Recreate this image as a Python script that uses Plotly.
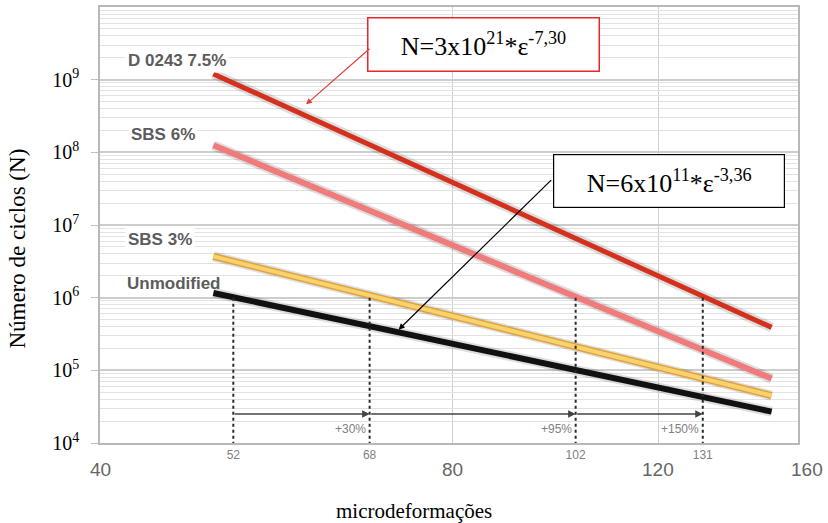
import math
import plotly.graph_objects as go

# Fatigue lines: number of cycles N against tensile microstrain (log-log)
strain = [50, 150]
n_d0243 = [1.2e9, 3.9e5]
n_sbs6 = [1.25e8, 7.7e4]
n_sbs3 = [3.7e6, 4.5e4]
n_unmod = [1.16e6, 2.7e4]
series_names = ["D 0243 7.5%", "SBS 6%", "SBS 3%", "Unmodified"]

# strain reaching 10^6 cycles for each mix, and the gains over the unmodified binder
strain_at_1e6 = [52, 68, 102, 131]
gain_labels = ["+30%", "+95%", "+150%"]
n_ref = 1e6
n_floor = 1e4
n_arrow = 2.5e4
n_gain_label = 1.55e4

major_x = [40, 80, 120, 160]
y_tickvals = [1e4, 1e5, 1e6, 1e7, 1e8, 1e9]
y_ticktext = ["10<sup>4</sup>", "10<sup>5</sup>", "10<sup>6</sup>",
              "10<sup>7</sup>", "10<sup>8</sup>", "10<sup>9</sup>"]

eq_d0243 = "N=3x10<sup>21</sup>*ε<sup>-7,30</sup>"
eq_unmod = "N=6x10<sup>11</sup>*ε<sup>-3,36</sup>"

SERIF = "Liberation Serif, Times New Roman, serif"
SANS = "Liberation Sans, Arial, sans-serif"

x_range = [math.log10(40), math.log10(158)]


def x_paper(v):
    """Position of a strain value along the log x axis, as a paper fraction."""
    return (math.log10(v) - x_range[0]) / (x_range[1] - x_range[0])


fig = go.Figure()

# soft shadow under each line
for ys in [n_d0243, n_sbs6, n_sbs3, n_unmod]:
    fig.add_trace(go.Scatter(x=strain, y=ys, mode="lines", hoverinfo="skip",
                             line=dict(color="rgba(0,0,0,0.13)", width=10)))

# yellow line has an orange rim
fig.add_trace(go.Scatter(x=strain, y=n_sbs3, mode="lines", hoverinfo="skip",
                         line=dict(color="#e2a03c", width=7)))

styles = [("#d4301d", 5), ("#f07b7b", 6), ("#f7d36e", 4), ("#111111", 6)]
for ys, name, (col, w) in zip([n_d0243, n_sbs6, n_sbs3, n_unmod], series_names, styles):
    fig.add_trace(go.Scatter(x=strain, y=ys, mode="lines", name=name,
                             line=dict(color=col, width=w)))

# dashed drop lines from 10^6 cycles to the axis
dx, dy = [], []
for s in strain_at_1e6:
    dx += [s, s, None]
    dy += [n_ref, n_floor, None]
fig.add_trace(go.Scatter(x=dx, y=dy, mode="lines", hoverinfo="skip",
                         line=dict(color="#2a2a2a", width=2, dash="3px,3px")))

annotations = []

# horizontal arrows between the strain marks
for a, b in zip(strain_at_1e6[:-1], strain_at_1e6[1:]):
    annotations.append(dict(x=math.log10(b), y=math.log10(n_arrow), xref="x", yref="y",
                            ax=math.log10(a), ay=math.log10(n_arrow), axref="x", ayref="y",
                            text="", showarrow=True, arrowhead=2, arrowsize=1,
                            arrowwidth=1.5, arrowcolor="#444444"))
for s, lab in zip(strain_at_1e6[1:], gain_labels):
    annotations.append(dict(x=math.log10(s), y=math.log10(n_gain_label), xref="x", yref="y",
                            text=lab, showarrow=False, xanchor="right", xshift=-2,
                            font=dict(family=SANS, size=12, color="#808080")))

# main strain labels under the axis
for v in major_x:
    annotations.append(dict(x=x_paper(v), y=-0.06, xref="paper", yref="paper",
                            text=str(v), showarrow=False, xanchor="center", yanchor="middle",
                            xshift=3 if v == major_x[-1] else 0,
                            font=dict(family=SANS, size=19, color="#666666")))

# series labels (the lowest one sits right above its line, so no backing box)
label_pos = [(0.036, 9.27), (0.04, 8.25), (0.036, 6.80), (0.034, 6.20)]
label_bg = ["white", "white", "white", "rgba(0,0,0,0)"]
for name, (lx, ly), bg in zip(series_names, label_pos, label_bg):
    annotations.append(dict(x=lx, y=ly, xref="paper", yref="y", text="<b>" + name + "</b>",
                            showarrow=False, xanchor="left", yanchor="middle",
                            bgcolor=bg, borderpad=2,
                            font=dict(family=SANS, size=17, color="#5c5c5c")))

# equation boxes
annotations.append(dict(x=0.550, y=0.913, xref="paper", yref="paper", text=eq_d0243,
                        showarrow=False, xanchor="center", yanchor="middle",
                        width=228, height=50, bgcolor="white",
                        bordercolor="#e8262b", borderwidth=1.5,
                        font=dict(family=SERIF, size=26, color="black")))
annotations.append(dict(x=0.815, y=0.600, xref="paper", yref="paper", text=eq_unmod,
                        showarrow=False, xanchor="center", yanchor="middle",
                        width=228, height=50, bgcolor="white",
                        bordercolor="black", borderwidth=1.2,
                        font=dict(family=SERIF, size=26, color="black")))

# pointers from the equations to their lines
annotations.append(dict(x=math.log10(60), y=8.66, xref="x", yref="y", text="",
                        showarrow=True, ax=65, ay=-57, arrowhead=2, arrowsize=1,
                        arrowwidth=1.2, arrowcolor="#e0403a"))
annotations.append(dict(x=math.log10(72), y=5.56, xref="x", yref="y", text="",
                        showarrow=True, ax=154, ay=-151, arrowhead=2, arrowsize=1,
                        arrowwidth=1.2, arrowcolor="black"))

# axis titles
annotations.append(dict(x=0.45, y=-0.155, xref="paper", yref="paper", text="microdeformações",
                        showarrow=False, xanchor="center", yanchor="middle",
                        font=dict(family=SERIF, size=21, color="black")))
annotations.append(dict(x=-0.118, y=0.445, xref="paper", yref="paper", text="Número de ciclos (N)",
                        showarrow=False, textangle=-90, xanchor="center", yanchor="middle",
                        font=dict(family=SERIF, size=23, color="black")))

fig.update_layout(
    width=828, height=523,
    margin=dict(l=100, r=30, t=5, b=80),
    paper_bgcolor="white", plot_bgcolor="white",
    showlegend=False,
    annotations=annotations,
    xaxis=dict(type="log", range=x_range,
               tickmode="array", tickvals=strain_at_1e6, ticktext=[str(s) for s in strain_at_1e6],
               ticks="outside", ticklen=0, tickfont=dict(family=SANS, size=12, color="#808080"),
               showgrid=False, zeroline=False,
               showline=True, linecolor="#b8b8b8", linewidth=1.5, mirror=True,
               minor=dict(tickmode="array", tickvals=major_x[1:3], showgrid=True,
                          gridcolor="#cfcfcf", gridwidth=1.2, ticklen=0)),
    yaxis=dict(type="log", range=[4, 10],
               tickmode="array", tickvals=y_tickvals, ticktext=y_ticktext,
               ticks="outside", ticklen=7, tickcolor="#c0c0c0", ticklabelstandoff=8,
               tickfont=dict(family=SERIF, size=20, color="black"),
               showgrid=True, gridcolor="#cdcdcd", gridwidth=1.5, zeroline=False,
               showline=True, linecolor="#b8b8b8", linewidth=1.5, mirror=True,
               minor=dict(dtick="D1", showgrid=True, gridcolor="#e2e2e2", gridwidth=1, ticklen=0)),
)

fig.write_html("out.html")
